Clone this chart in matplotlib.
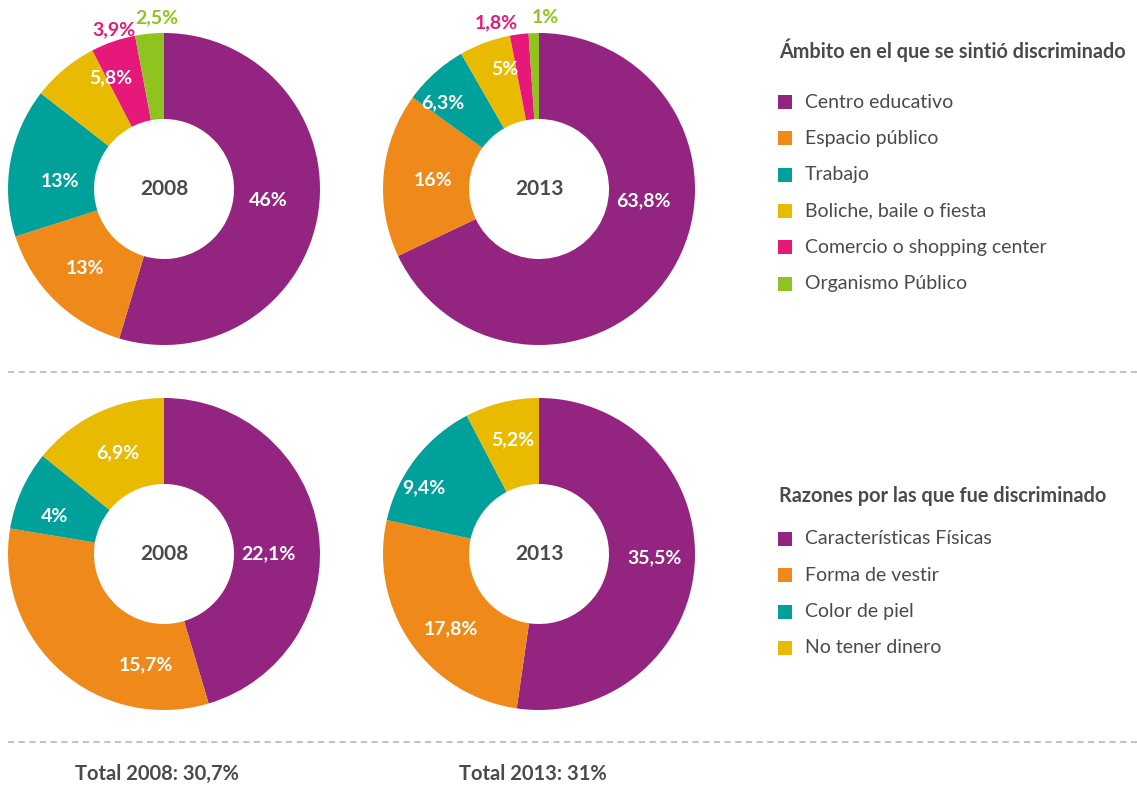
import matplotlib.pyplot as plt
from matplotlib.patches import Rectangle
import numpy as np

plt.rcParams['font.family'] = ['Lato', 'DejaVu Sans']

W, H = 1137, 787

# colours shared by both groups
colors = ["#93247F", "#EF8A1A", "#00A19A", "#E8BB00", "#E6197A", "#8FC320"]
grey = "#4A4A4A"

# ambito en el que se sintio discriminado
ambito_labels = ["Centro educativo", "Espacio público", "Trabajo",
                 "Boliche, baile o fiesta", "Comercio o shopping center",
                 "Organismo Público"]
ambito_2008 = [46, 13, 13, 5.8, 3.9, 2.5]
ambito_2013 = [63.8, 16, 6.3, 5, 1.8, 1]

# razones por las que fue discriminado
razones_labels = ["Características Físicas", "Forma de vestir",
                  "Color de piel", "No tener dinero"]
razones_2008 = [22.1, 15.7, 4, 6.9]
razones_2013 = [35.5, 17.8, 9.4, 5.2]

totals = ["Total 2008: 30,7%", "Total 2013: 31%"]


def fmt(v):
    s = "{:g}".format(v).replace(".", ",")
    return s + "%"


def donut(cx, cy, values, year, nudges, radii, outside=()):
    r = 156
    ax = fig.add_axes([(cx - r) / W, 1 - (cy + r) / H, 2 * r / W, 2 * r / H])
    ax.pie(values, colors=colors[:len(values)], startangle=90,
           counterclock=False, radius=1,
           wedgeprops=dict(width=1 - 70 / 156, linewidth=0))
    ax.set_xlim(-1.0, 1.0)
    ax.set_ylim(-1.0, 1.0)
    ax.axis("off")

    total = float(sum(values))
    cum = np.cumsum([0] + list(values))
    for i, v in enumerate(values):
        mid = (cum[i] + v / 2) / total * 360 + nudges[i]
        a = np.deg2rad(mid)
        x, y = radii[i] * np.sin(a), radii[i] * np.cos(a)
        col = colors[i] if i in outside else "white"
        ax.text(x, y, fmt(v), ha="center", va="center", color=col,
                fontsize=14, fontweight="bold", clip_on=False)
    ax.text(0, 0, year, ha="center", va="center", color=grey,
            fontsize=15, fontweight="bold")


fig = plt.figure(figsize=(W / 100, H / 100), dpi=100)
bg = fig.add_axes([0, 0, 1, 1])
bg.set_xlim(0, W)
bg.set_ylim(H, 0)
bg.axis("off")

donut(164, 189, ambito_2008, "2008",
      nudges=[-2, 0.5, -6, 14, 1.5, 3],
      radii=[0.67, 0.72, 0.67, 0.79, 1.07, 1.10], outside=(4, 5))
donut(539, 189, ambito_2013, "2013",
      nudges=[-26, -0.7, -6, 4.3, -7, 4],
      radii=[0.67, 0.68, 0.83, 0.80, 1.10, 1.10], outside=(4, 5))
donut(164, 554, razones_2008, "2008",
      nudges=[8, -32, -5.4, 1],
      radii=[0.67, 0.72, 0.74, 0.71])
donut(539, 554, razones_2013, "2013",
      nudges=[-2, -5.8, -7.6, 0.7],
      radii=[0.74, 0.74, 0.85, 0.75])

# dashed separators
for y in (372, 742):
    bg.plot([8, W], [y, y], color="#B0B0B0", lw=1.1, ls=(0, (4, 3)))


def legend(title, labels, ty, y0):
    bg.text(779, ty, title, ha="left", va="center", color=grey,
            fontsize=14.3, fontweight="bold")
    for i, lab in enumerate(labels):
        y = y0 + i * 36.3
        bg.add_patch(Rectangle((778, y - 7), 14, 14, color=colors[i], lw=0))
        bg.text(805, y, lab, ha="left", va="center", color=grey,
                fontsize=14)


legend("Ámbito en el que se sintió discriminado", ambito_labels, 50, 102)
legend("Razones por las que fue discriminado", razones_labels, 496, 539)

bg.text(157, 774, totals[0], ha="center", va="center", color=grey,
        fontsize=14.5, fontweight="bold")
bg.text(533, 774, totals[1], ha="center", va="center", color=grey,
        fontsize=14.5, fontweight="bold")

fig.savefig("out.png", dpi=100)
